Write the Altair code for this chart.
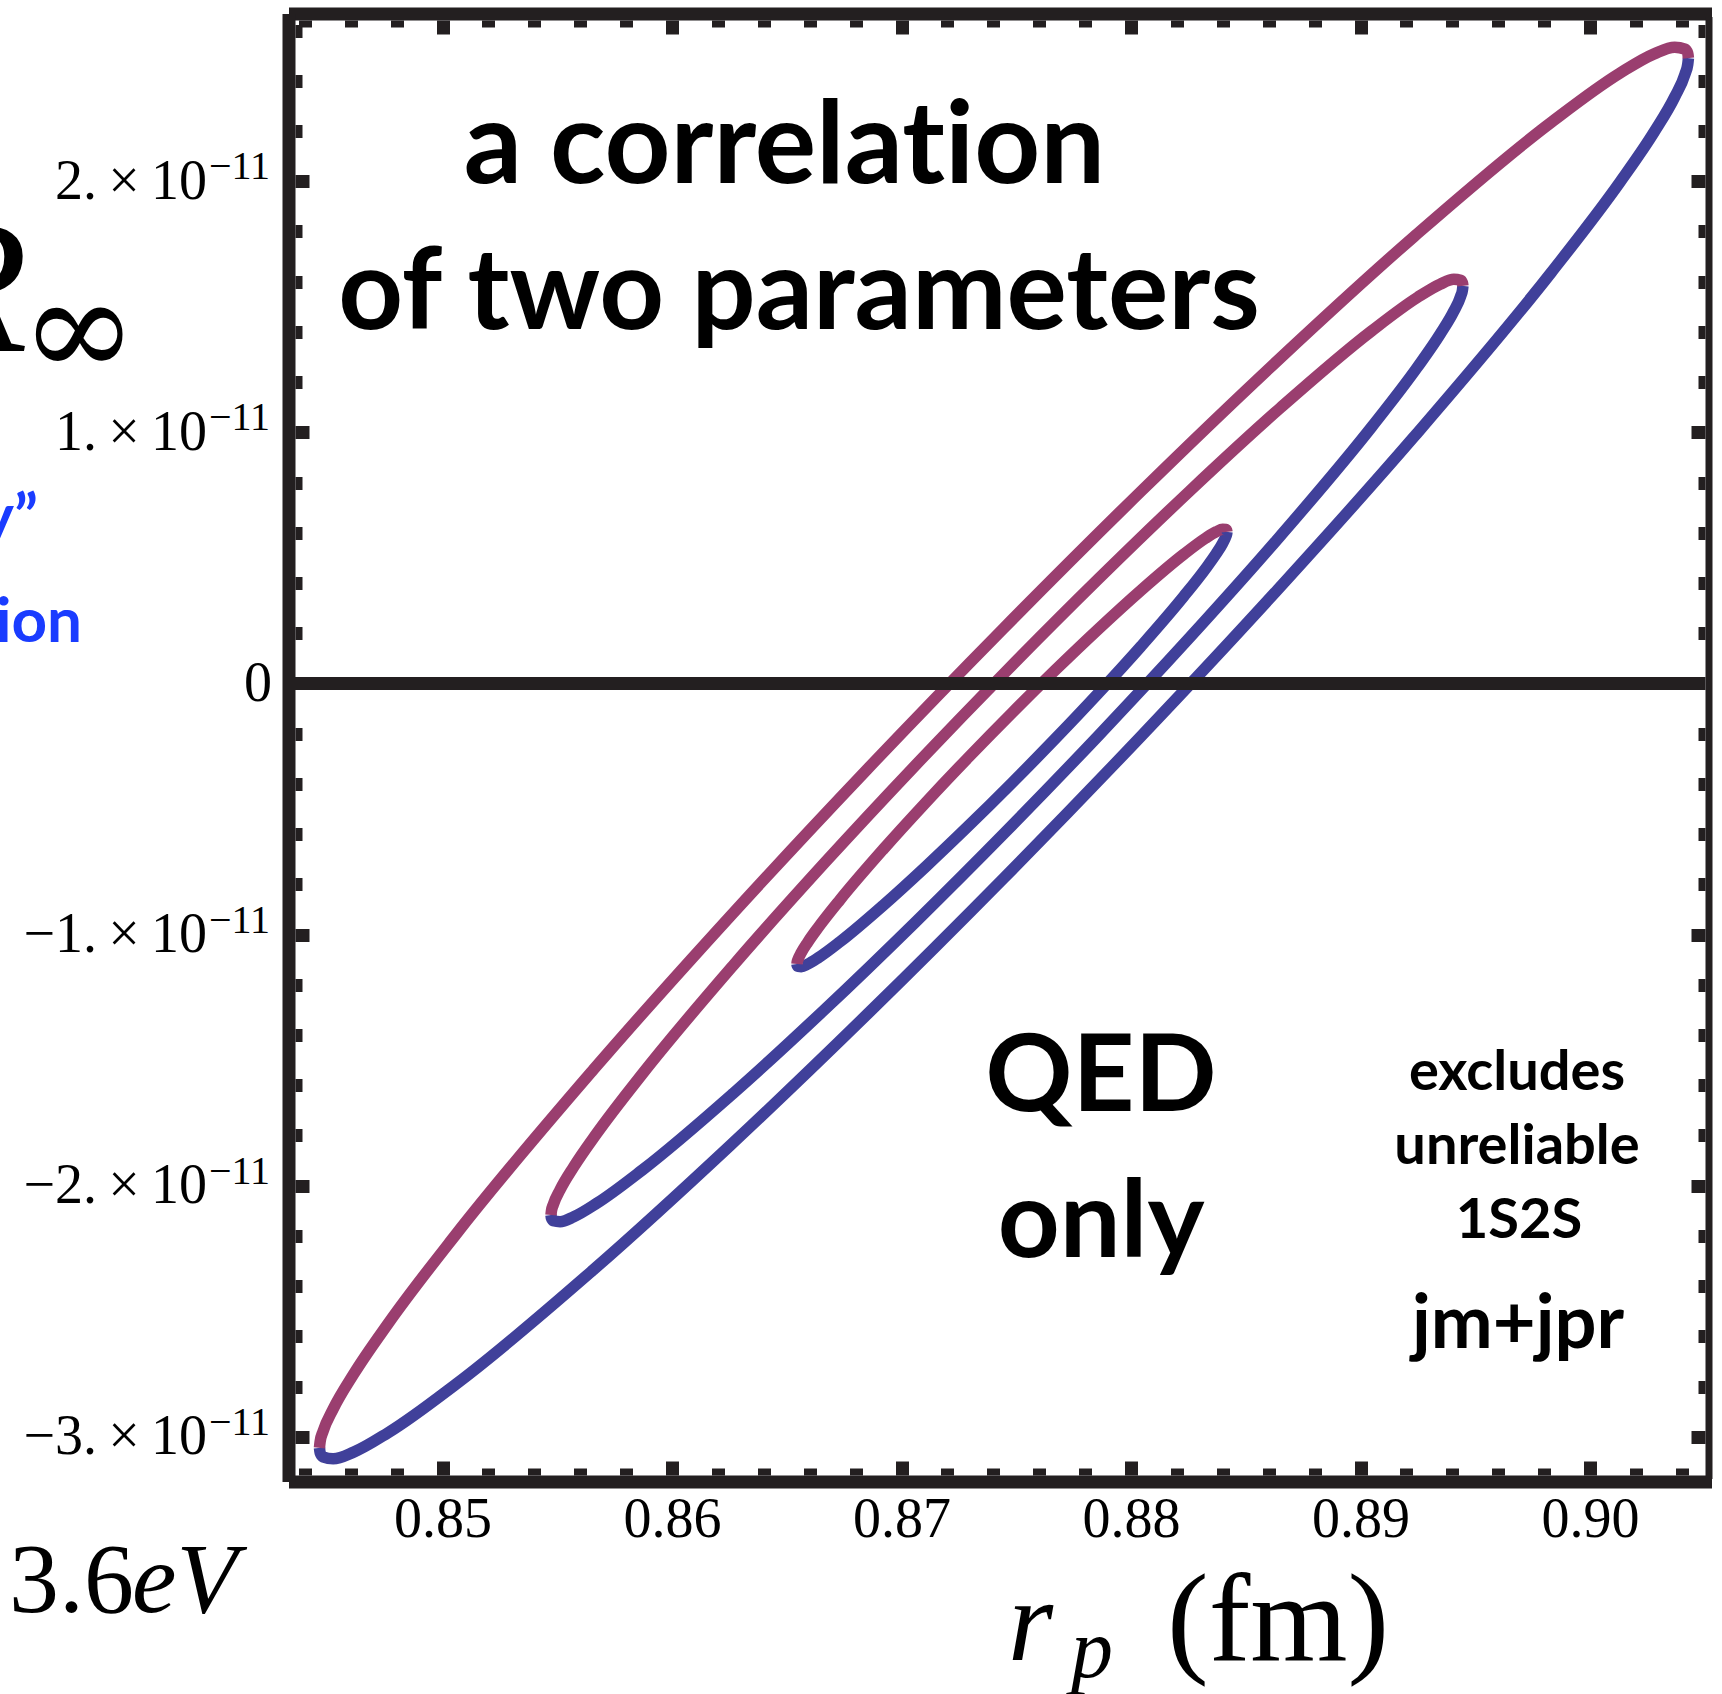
import altair as alt
import pandas as pd

# ---------------- data ----------------
x_major = [0.85, 0.86, 0.87, 0.88, 0.89, 0.90]
x_minor = [0.844, 0.846, 0.848, 0.852, 0.854, 0.856, 0.858, 0.862, 0.864, 0.866, 0.868,
           0.872, 0.874, 0.876, 0.878, 0.882, 0.884, 0.886, 0.888, 0.892, 0.894, 0.896,
           0.898, 0.902, 0.904]
y_major = [-3, -2, -1, 0, 1, 2]          # units of 1e-11
y_labelled = [-3, -2, -1, 1, 2]          # ticks carrying the "×10^-11" labels
y_zero_label = [0]
y_minor = [-2.8, -2.6, -2.4, -2.2, -1.8, -1.6, -1.4, -1.2, -0.8, -0.6, -0.4, -0.2,
           0.2, 0.4, 0.6, 0.8, 1.2, 1.4, 1.6, 1.8, 2.2, 2.4, 2.6]
zero_line = [0.0]

# contour points: r_p (fm), upper branch and lower branch (units of 1e-11)
outer_r = [0.844636, 0.844666, 0.844785, 0.845233, 0.846127, 0.847619, 0.850601, 0.856566,
           0.862532, 0.868497, 0.874462, 0.880427, 0.886392, 0.892358, 0.898323, 0.901305,
           0.902797, 0.903691, 0.904139, 0.904258, 0.904288]
outer_upper = [-3.0438, -3.0188, -2.9802, -2.8894, -2.7500, -2.5501, -2.1917, -1.5387,
               -0.9273, -0.3424, 0.2210, 0.7644, 1.2863, 1.7817, 2.2355, 2.4305, 2.5073,
               2.5339, 2.5261, 2.5097, 2.4902]
outer_lower = [-3.0438, -3.0633, -3.0797, -3.0875, -3.0609, -2.9841, -2.7891, -2.3352,
               -1.8398, -1.3179, -0.7746, -0.2111, 0.3738, 0.9852, 1.6381, 1.9965, 2.1964,
               2.3358, 2.4267, 2.4652, 2.4902]

middle_r = [0.854724, 0.854744, 0.854823, 0.855121, 0.855717, 0.856711, 0.858698, 0.862672,
            0.866645, 0.870619, 0.874593, 0.878567, 0.882541, 0.886514, 0.890488, 0.892475,
            0.893469, 0.894065, 0.894363, 0.894442, 0.894462]
middle_upper = [-2.1167, -2.1006, -2.0756, -2.0163, -1.9247, -1.7928, -1.5556, -1.1219,
                -0.7148, -0.3246, 0.0518, 0.4153, 0.7651, 1.0980, 1.4042, 1.5369, 1.5900,
                1.6094, 1.6056, 1.5954, 1.5830]
middle_lower = [-2.1167, -2.1291, -2.1393, -2.1431, -2.1237, -2.0706, -1.9379, -1.6316,
                -1.2988, -0.9490, -0.5854, -0.2090, 0.1811, 0.5882, 1.0219, 1.2592, 1.3911,
                1.4826, 1.5420, 1.5669, 1.5830]

inner_r = [0.865443, 0.865452, 0.865490, 0.865630, 0.865911, 0.866380, 0.867317, 0.869190,
           0.871064, 0.872937, 0.874811, 0.876685, 0.878558, 0.880432, 0.882305, 0.883242,
           0.883711, 0.883992, 0.884132, 0.884170, 0.884179]
inner_upper = [-1.1171, -1.1100, -1.0989, -1.0722, -1.0306, -0.9703, -0.8614, -0.6615,
               -0.4732, -0.2923, -0.1175, 0.0518, 0.2150, 0.3708, 0.5149, 0.5781, 0.6039,
               0.6139, 0.6130, 0.6087, 0.6034]
inner_lower = [-1.1171, -1.1225, -1.1267, -1.1276, -1.1176, -1.0918, -1.0287, -0.8845,
               -0.7287, -0.5655, -0.3963, -0.2214, -0.0405, 0.1478, 0.3477, 0.4566, 0.5168,
               0.5584, 0.5851, 0.5963, 0.6034]

rows = []
for name, rr, up, lo in [("outer", outer_r, outer_upper, outer_lower),
                         ("middle", middle_r, middle_upper, middle_lower),
                         ("inner", inner_r, inner_upper, inner_lower)]:
    for i, (a, b, c) in enumerate(zip(rr, up, lo)):
        rows.append({"ellipse": name, "i": i, "r": a, "v": b, "branch": "upper"})
        rows.append({"ellipse": name, "i": i, "r": a, "v": c, "branch": "lower"})
curves = pd.DataFrame(rows)

# ---------------- styling ----------------
W, H = 1410, 1455
DARK = "#231f20"
MAG = "#9a3e6f"
BLU = "#40409a"
SERIF = "Liberation Serif"
SANS = "Lato"
FRAME = 13
TICKW = 13

xs = alt.Scale(domain=[0.84357, 0.90501], nice=False, zero=False)
ys = alt.Scale(domain=[-3.152, 2.642], nice=False, zero=False)

common = dict(grid=False, title=None)


def frame_axis(orient, width, labels=False, values=None, domain=True, **kw):
    return alt.Axis(orient=orient, domain=domain, domainWidth=width, domainColor=DARK,
                    domainCap="square", offset=width / 2, ticks=False, tickSize=0,
                    labels=labels, values=values if values is not None else [],
                    labelOverlap=False, labelFlush=False, labelLimit=0, **common, **kw)


def tick_axis(orient, values, size):
    return alt.Axis(orient=orient, values=values, domain=False, labels=False, ticks=True,
                    tickSize=size, tickWidth=TICKW, tickColor=DARK, offset=-size, **common)


ylab = ("(datum.value < 0 ? '\u2212' : '') + "
        "format(abs(datum.value), 'd') + '.\u2009\u00d7\u200910'")

axes = [
    (frame_axis("bottom", FRAME, labels=True, values=x_major, format=".2f", labelFont=SERIF,
                labelFontSize=56, labelColor="black", labelPadding=11),
     frame_axis("left", FRAME, labels=True, values=y_labelled, labelExpr=ylab,
                labelFont=SERIF, labelFontSize=56, labelColor="black", labelPadding=82)),
    (tick_axis("bottom", x_major, 14), tick_axis("left", y_major, 14)),
    (tick_axis("bottom", x_minor, 7), tick_axis("left", y_minor, 7)),
    (frame_axis("top", FRAME), frame_axis("right", 7)),
    (tick_axis("top", x_major, 14), tick_axis("right", y_major, 14)),
    (tick_axis("top", x_minor, 7), tick_axis("right", y_minor, 7)),
    (None, frame_axis("left", FRAME, labels=True, values=y_zero_label, domain=False,
                      labelFont=SERIF, labelFontSize=56, labelColor="black",
                      labelPadding=17)),
]

layers = []
for xa, ya in axes:
    layers.append(alt.Chart(curves).mark_point(opacity=0).encode(
        x=alt.X("r:Q", scale=xs, axis=xa), y=alt.Y("v:Q", scale=ys, axis=ya)))

# superscript exponents of the y tick labels
layers.append(alt.Chart(pd.DataFrame({"v": y_labelled})).mark_text(
    x=-86, dy=-2, align="left", baseline="alphabetic", font=SERIF, fontSize=40,
    color="black").encode(y=alt.Y("v:Q", scale=ys, axis=None),
                          text=alt.value("\u221211")))

for branch, col in [("lower", BLU), ("upper", MAG)]:
    layers.append(alt.Chart(curves).transform_filter(
        alt.datum.branch == branch).mark_line(
        color=col, strokeWidth=11.5, interpolate="monotone").encode(
        x=alt.X("r:Q", scale=xs, axis=None), y=alt.Y("v:Q", scale=ys, axis=None),
        detail="ellipse:N", order="i:Q"))

layers.append(alt.Chart(pd.DataFrame({"v": zero_line})).mark_rule(
    color=DARK, strokeWidth=13).encode(y=alt.Y("v:Q", scale=ys, axis=None)))


def txt(text, x, y, size, font=SANS, weight="bold", color="black", align="center",
        style="normal"):
    return alt.Chart(pd.DataFrame({"t": [text]})).mark_text(
        x=x, y=y, fontSize=size, font=font, fontWeight=weight, color=color, align=align,
        baseline="alphabetic", fontStyle=style).encode(text="t:N")


# "a correlation" is set in two runs joined at the t|i boundary so that the
# font does not substitute its "ti" ligature
annotations = ["a correlat", "ion", "of two parameters", "QED", "only",
               "excludes", "unreliable", "1S2S", "jm+jpr"]
layers += [
    txt(annotations[0], 650, 163, 115, align="right"),
    txt(annotations[1], 650, 163, 115, align="left"),
    txt(annotations[2], 504, 309, 113),
    txt(annotations[3], 806, 1091, 108),
    txt(annotations[4], 806, 1237, 108),
    txt(annotations[5], 1222, 1070, 56),
    txt(annotations[6], 1222, 1144, 56),
    txt(annotations[7], 1224, 1218, 56),
    txt(annotations[8], 1223, 1328, 74),
    # cropped pieces of neighbouring slide text
    txt("R", -267, 331, 190, font=SERIF, weight="normal", align="right", style="italic"),
    txt("\u221e", -216, 356, 140, font="DejaVu Serif", weight="normal"),
    txt("y\u201d", -257, 518, 62, color="#1a3cff", align="right"),
    txt("ion", -213, 622, 62, color="#1a3cff", align="right"),
    txt("3.6", -286, 1592, 100, font=SERIF, weight="normal", align="left"),
    txt("eV", -163, 1592, 100, font=SERIF, weight="normal", align="left", style="italic"),
    # x-axis title r_p (fm)
    txt("r", 713, 1640, 116, font=SERIF, weight="normal", align="left", style="italic"),
    txt("p", 776, 1657, 84, font=SERIF, weight="normal", align="left", style="italic"),
    txt("(fm)", 872, 1640, 125, font=SERIF, weight="normal", align="left"),
]

chart = alt.layer(*layers).resolve_axis(x="independent", y="independent").properties(
    width=W, height=H,
    autosize=alt.AutoSizeParams(type="none"),
    padding={"left": 295, "top": 20, "right": 17, "bottom": 219},
    background="white",
).configure_view(stroke=None)

chart.save("out.html", embed_options={"renderer": "svg", "actions": False})
